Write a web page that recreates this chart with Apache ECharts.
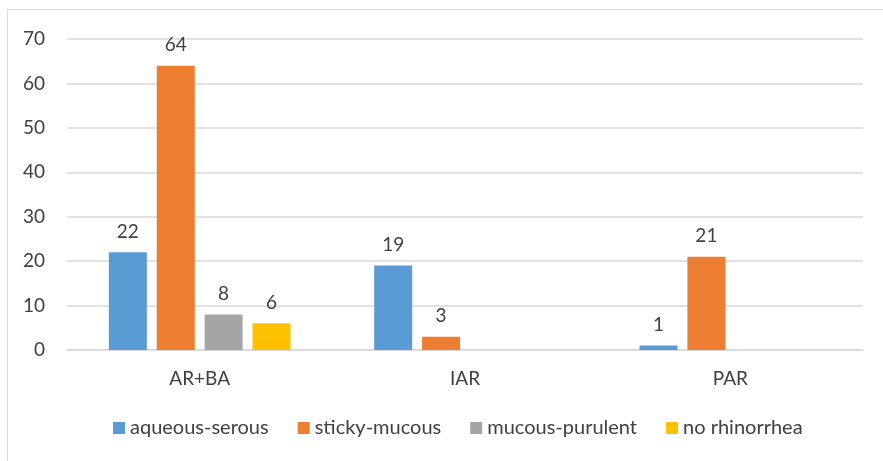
<!DOCTYPE html>
<html>
<head>
<meta charset="utf-8">
<script src="https://cdn.jsdelivr.net/npm/echarts@6/dist/echarts.min.js"></script>
<style>
  html, body { margin: 0; padding: 0; background: #fff; }
  #frame { position: absolute; left: 7px; top: 9px; width: 900px; height: 480px; border: 1px solid #d9d9d9; box-sizing: border-box; }
  #chart { position: absolute; left: 0; top: 0; width: 883px; height: 461px; }
</style>
</head>
<body>
<div id="frame"></div>
<div id="chart"></div>
<script>
const categories = ['AR+BA', 'IAR', 'PAR'];
const seriesNames = ['aqueous-serous', 'sticky-mucous', 'mucous-purulent', 'no rhinorrhea'];
const aqueousSerous = [22, 19, 1];
const stickyMucous = [64, 3, 21];
const mucousPurulent = [8, null, null];
const noRhinorrhea = [6, null, null];
const colors = ['#5b9bd5', '#ed7d31', '#a5a5a5', '#ffc000'];

const fontFamily = 'Lato, "Open Sans", sans-serif';
const values = [aqueousSerous, stickyMucous, mucousPurulent, noRhinorrhea];

const myChart = echarts.init(document.getElementById('chart'));
const option = {
  animation: false,
  textStyle: { fontFamily: fontFamily },
  color: colors,
  grid: { left: 67, right: 20, top: 39, bottom: 111 },
  legend: {
    left: 108,
    bottom: 18,
    itemWidth: 12,
    itemHeight: 12,
    itemGap: 29,
    icon: 'rect',
    textStyle: { fontSize: 20, color: '#404040', fontFamily: fontFamily },
    data: seriesNames
  },
  xAxis: {
    type: 'category',
    data: categories,
    axisLine: { lineStyle: { color: '#d9d9d9', width: 1.5 } },
    axisTick: { show: false },
    axisLabel: { fontSize: 19, color: '#404040', margin: 19 }
  },
  yAxis: {
    type: 'value',
    min: 0,
    max: 70,
    interval: 10,
    axisLine: { show: false },
    axisTick: { show: false },
    splitLine: { lineStyle: { color: '#d9d9d9', width: 1.5 } },
    axisLabel: { fontSize: 19, color: '#404040', margin: 22 }
  },
  series: seriesNames.map((name, i) => ({
    name: name,
    type: 'bar',
    data: values[i],
    barWidth: 38,
    barGap: '26%',
    barCategoryGap: '32%',
    label: {
      show: true,
      position: 'top',
      distance: 11,
      fontSize: 19,
      color: '#404040'
    }
  }))
};
myChart.setOption(option);
</script>
</body>
</html>
